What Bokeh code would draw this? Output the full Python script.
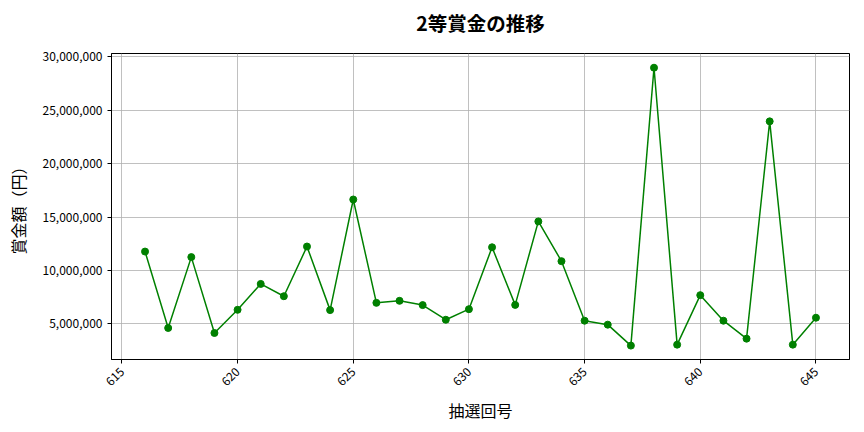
from bokeh.plotting import figure
from bokeh.models import FixedTicker, NumeralTickFormatter, Range1d, ColumnDataSource, Title
from bokeh.embed import file_html
from bokeh.resources import INLINE
import math

draws = list(range(616, 646))
prizes = [11770000, 4620000, 11250000, 4150000, 6320000, 8740000, 7590000, 12240000,
          6290000, 16640000, 6970000, 7160000, 6760000, 5390000, 6380000, 12170000,
          6780000, 14590000, 10870000, 5300000, 4930000, 2970000, 28970000, 3060000,
          7690000, 5300000, 3620000, 23950000, 3060000, 5580000]
x_ticks = [615, 620, 625, 630, 635, 640, 645]
y_ticks = [5000000, 10000000, 15000000, 20000000, 25000000, 30000000]
title_text = "2等賞金の推移"

FONT = "Noto Sans CJK JP"
src = ColumnDataSource(dict(x=draws, y=prizes))

p = figure(width=856, height=424, output_backend="svg", toolbar_location=None,
           title_location=None,
           min_border_left=111, min_border_right=7, min_border_top=53, min_border_bottom=64)
p.x_range = Range1d(614.55, 646.45)
p.y_range = Range1d(1670000, 30300000)

p.line("x", "y", source=src, line_color="#008000", line_width=1.5)
p.scatter("x", "y", source=src, size=7, fill_color="#008000", line_color="#008000")

spacer = Title(text=" ", text_font_size="1px", standoff=14)
p.add_layout(spacer, "above")
main_title = Title(text=title_text, align="center", standoff=0,
                   text_font=FONT, text_font_size="19.5px", text_font_style="bold",
                   text_color="#000000")
p.add_layout(main_title, "above")

p.xaxis.ticker = FixedTicker(ticks=x_ticks)
p.yaxis.ticker = FixedTicker(ticks=y_ticks)
p.yaxis.formatter = NumeralTickFormatter(format="0,0")
p.xaxis.major_label_orientation = math.pi / 4
p.xaxis.axis_label = "抽選回号"
p.yaxis.axis_label = "賞金額（円）"
for ax in (p.xaxis, p.yaxis):
    ax.axis_label_text_font = FONT
    ax.axis_label_text_font_size = "16px"
    ax.axis_label_text_font_style = "normal"
    ax.axis_label_text_color = "#000000"
    ax.major_label_text_font = FONT
    ax.major_label_text_font_size = "12px"
    ax.major_label_text_color = "#000000"
    ax.minor_tick_line_color = None
    ax.major_tick_out = 4
    ax.major_tick_in = 0
    ax.axis_line_color = "#000000"
    ax.major_tick_line_color = "#000000"
p.xaxis.major_label_standoff = 6
p.yaxis.axis_label_standoff = 10

p.xgrid.grid_line_color = "#b0b0b0"
p.ygrid.grid_line_color = "#b0b0b0"
p.xgrid.grid_line_width = 0.8
p.ygrid.grid_line_width = 0.8
p.outline_line_color = "#000000"
p.outline_line_width = 1
p.outline_line_alpha = 1

open("out.html", "w").write(file_html(p, INLINE))
